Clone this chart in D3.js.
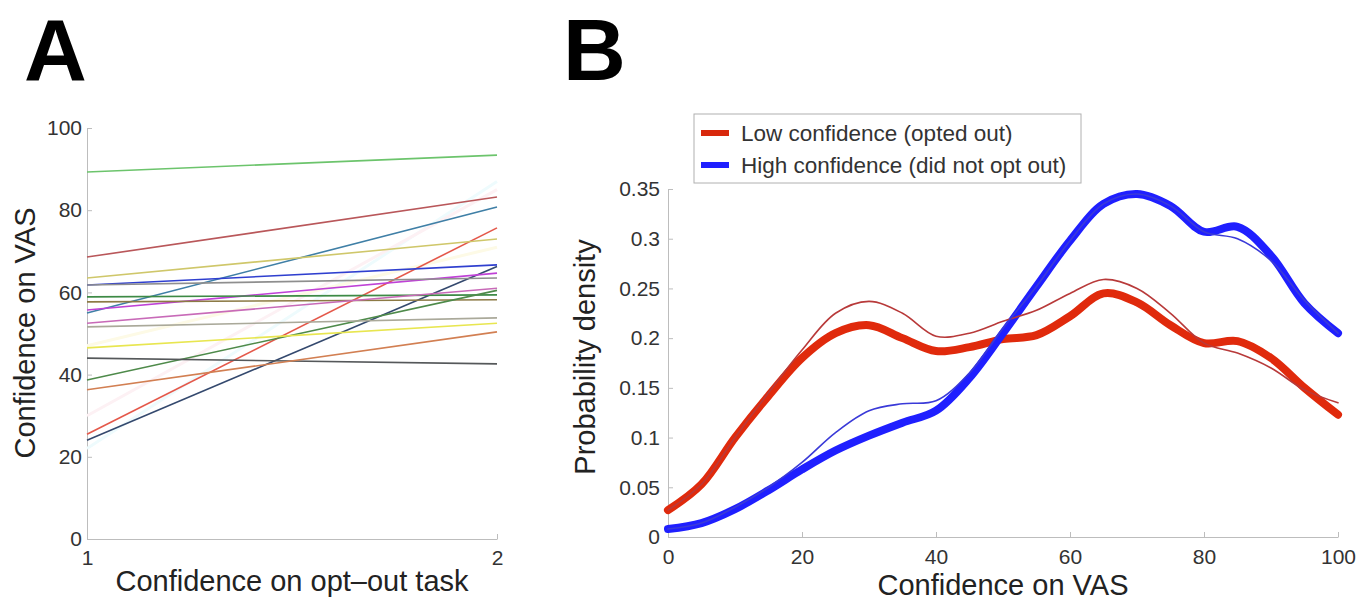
<!DOCTYPE html>
<html>
<head>
<meta charset="utf-8">
<script src="https://cdn.jsdelivr.net/npm/d3@7"></script>
<style>
  body { margin: 0; background: #fff; }
  svg { font-family: 'Liberation Sans', Arial, Helvetica, sans-serif; }
  .tick text { fill: #333; font-size: 21px; }
  .tick line, .domain { stroke: #bdbdbd; }
  .axis-label { fill: #222; font-size: 29px; text-anchor: middle; }
  .panel-letter { fill: #000; font-size: 87px; font-weight: bold; }
  .legend-text { fill: #333; font-size: 22.5px; }
</style>
</head>
<body>
<svg width="1365" height="602"></svg>
<script>
// ---- panel A: per-participant VAS confidence by opt-out confidence ----
const taskLevels = [1, 2];
const vasAtLow  = [22, 30, 47, 89.3, 68.6, 55.0, 25.5, 63.5, 61.8, 24.0, 55.7, 61.8, 58.9, 57.7, 38.7, 52.5, 51.6, 46.5, 44.0, 36.3];
const vasAtHigh = [87, 85, 71, 93.4, 83.2, 80.8, 75.7, 73.0, 66.7, 66.3, 64.7, 63.5, 59.4, 58.2, 60.5, 61.0, 53.8, 52.5, 42.6, 50.4];
const participantColors = ['#eefbfd', '#fdf1f4', '#fdfae6', '#6cc46c', '#b9575a', '#3f7fa6', '#e4584a', '#cfc76a',
  '#2f3fcf', '#34496e', '#bf42d6', '#8e8e8e', '#3d8a45', '#8c7a45', '#4e8a4a', '#c86ab8', '#aaa99a', '#e8e650',
  '#55585a', '#d27f52'];
const vasTicksA = [0, 20, 40, 60, 80, 100];

// ---- panel B: probability density of VAS confidence ----
const vasGrid = [0, 5, 10, 15, 20, 25, 30, 35, 40, 45, 50, 55, 60, 65, 70, 75, 80, 85, 90, 95, 100];
const lowFit  = [0.027, 0.053, 0.100, 0.142, 0.180, 0.205, 0.213, 0.200, 0.187, 0.191, 0.199, 0.203, 0.222, 0.245, 0.236, 0.213, 0.195, 0.197, 0.180, 0.150, 0.123];
const lowRaw  = [0.027, 0.053, 0.100, 0.145, 0.188, 0.225, 0.237, 0.225, 0.202, 0.205, 0.217, 0.228, 0.245, 0.259, 0.250, 0.225, 0.195, 0.185, 0.170, 0.148, 0.135];
const highFit = [0.008, 0.014, 0.028, 0.047, 0.068, 0.087, 0.102, 0.115, 0.127, 0.160, 0.205, 0.252, 0.298, 0.335, 0.345, 0.333, 0.307, 0.312, 0.283, 0.235, 0.205];
const highRaw = [0.008, 0.014, 0.030, 0.050, 0.075, 0.105, 0.127, 0.134, 0.137, 0.165, 0.210, 0.252, 0.298, 0.335, 0.345, 0.333, 0.307, 0.300, 0.278, 0.238, 0.205];
const densityTicks = [0, 0.05, 0.1, 0.15, 0.2, 0.25, 0.3, 0.35];
const vasTicksB = [0, 20, 40, 60, 80, 100];
const legendLabels = ['Low confidence (opted out)', 'High confidence (did not opt out)'];

const svg = d3.select('svg');

svg.append('text').attr('class', 'panel-letter').attr('x', 24).attr('y', 80).text('A');
svg.append('text').attr('class', 'panel-letter').attr('x', 563).attr('y', 80).text('B');

// ===== Panel A =====
const aMargin = { left: 87, top: 128, width: 410, height: 411 };
const gA = svg.append('g').attr('transform', `translate(${aMargin.left},${aMargin.top})`);

const xA = d3.scaleLinear().domain([1, 2]).range([0, aMargin.width]);
const yA = d3.scaleLinear().domain([0, 100]).range([aMargin.height, 0]);

gA.append('g')
    .attr('transform', `translate(0,${aMargin.height})`)
    .call(d3.axisBottom(xA).tickValues(taskLevels).tickFormat(d3.format('d'))
      .tickSizeInner(-5).tickSizeOuter(0).tickPadding(11))
    .call(g => g.selectAll('.tick text').attr('font-size', null));

gA.append('g')
    .call(d3.axisLeft(yA).tickValues(vasTicksA).tickSizeInner(-5).tickSizeOuter(0).tickPadding(5))
    .call(g => g.selectAll('.tick text').attr('font-size', null));

const participants = vasAtLow.map((v, i) => ({ low: v, high: vasAtHigh[i], color: participantColors[i], faint: i < 3 }));

gA.selectAll('.participant').data(participants)
  .enter().append('line')
    .attr('class', 'participant')
    .attr('x1', xA(taskLevels[0]))
    .attr('x2', xA(taskLevels[1]))
    .attr('y1', d => yA(d.low))
    .attr('y2', d => yA(d.high))
    .attr('stroke', d => d.color)
    .attr('stroke-width', d => d.faint ? 3 : 1.6);

gA.append('text').attr('class', 'axis-label')
    .attr('x', aMargin.width / 2).attr('y', 463)
    .text('Confidence on opt\u2013out task');

gA.append('text').attr('class', 'axis-label')
    .attr('transform', `rotate(-90)`)
    .attr('x', -205).attr('y', -52)
    .text('Confidence on VAS');

// ===== Panel B =====
const bMargin = { left: 668, top: 189, width: 670, height: 348 };
const gB = svg.append('g').attr('transform', `translate(${bMargin.left},${bMargin.top})`);

const xB = d3.scaleLinear().domain([0, 100]).range([0, bMargin.width]);
const yB = d3.scaleLinear().domain([0, 0.35]).range([bMargin.height, 0]);

gB.append('g')
    .attr('transform', `translate(0,${bMargin.height})`)
    .call(d3.axisBottom(xB).tickValues(vasTicksB).tickSizeInner(-5).tickSizeOuter(0).tickPadding(12))
    .call(g => g.selectAll('.tick text').attr('font-size', null));

gB.append('g')
    .call(d3.axisLeft(yB).tickValues(densityTicks).tickFormat(d => d === 0 ? '0' : String(d))
      .tickSizeInner(-5).tickSizeOuter(0).tickPadding(8))
    .call(g => g.selectAll('.tick text').attr('font-size', null));

const curve = d3.line()
    .x((d, i) => xB(vasGrid[i]))
    .y(d => yB(d))
    .curve(d3.curveCatmullRom.alpha(0.5));

const densitySeries = [
  { values: lowFit,  color: '#e02a0c', width: 8 },
  { values: highFit, color: '#1f1fff', width: 8 },
  { values: lowRaw,  color: '#b83a3a', width: 1.6 },
  { values: highRaw, color: '#3a3ad8', width: 1.6 }
];

gB.selectAll('.density').data(densitySeries)
  .enter().append('path')
    .attr('class', 'density')
    .attr('d', d => curve(d.values))
    .attr('fill', 'none')
    .attr('stroke', d => d.color)
    .attr('stroke-width', d => d.width)
    .attr('stroke-linejoin', 'round')
    .attr('stroke-linecap', 'round');

gB.append('text').attr('class', 'axis-label')
    .attr('x', bMargin.width / 2).attr('y', 406)
    .text('Confidence on VAS');

gB.append('text').attr('class', 'axis-label')
    .attr('transform', `rotate(-90)`)
    .attr('x', -168).attr('y', -73)
    .text('Probability density');

// legend
const legendG = svg.append('g').attr('transform', 'translate(694,114)');
legendG.append('rect')
    .attr('width', 387).attr('height', 69)
    .attr('fill', '#fff').attr('stroke', '#b0b0b0');
const legendColors = ['#d8280c', '#1f1fff'];
legendLabels.forEach((label, i) => {
  const row = legendG.append('g').attr('transform', `translate(0,${19 + i * 32})`);
  row.append('line').attr('x1', 7).attr('x2', 35).attr('stroke', legendColors[i]).attr('stroke-width', 6);
  row.append('text').attr('class', 'legend-text').attr('x', 47).attr('y', 8).text(label);
});
</script>
</body>
</html>
